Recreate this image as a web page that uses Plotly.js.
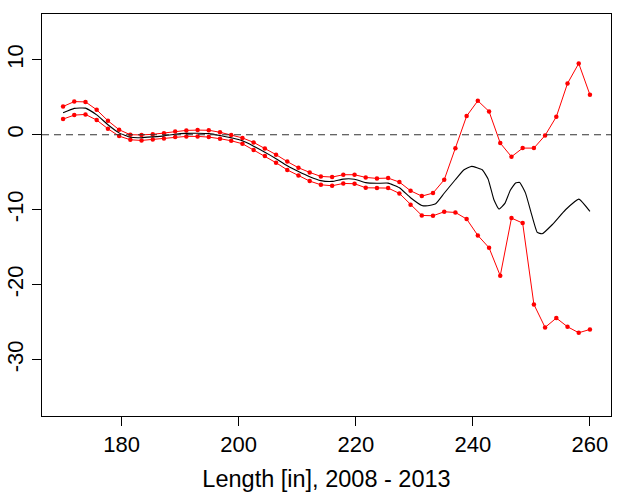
<!DOCTYPE html>
<html>
<head>
<meta charset="utf-8">
<script src="https://cdn.plot.ly/plotly-3.0.1.min.js"></script>
<style>
  html, body { margin: 0; padding: 0; background: #fff; }
  #chart { width: 620px; height: 498px; }
</style>
</head>
<body>
<div id="chart"></div>
<script>
// Length grid for the confidence band points
var lengthX = [170.00,171.91,173.83,175.74,177.66,179.57,181.49,183.40,185.32,187.23,
  189.15,191.06,192.98,194.89,196.81,198.72,200.64,202.55,204.47,206.38,
  208.30,210.21,212.13,214.04,215.96,217.87,219.79,221.70,223.62,225.53,
  227.45,229.36,231.28,233.19,235.11,237.02,238.94,240.85,242.77,244.68,
  246.60,248.51,250.43,252.34,254.26,256.17,258.09,260.00];

// Upper band (red, top)
var upperY = [3.77,4.42,4.38,3.33,1.87,0.67,0.00,-0.02,0.06,0.20,
  0.44,0.58,0.62,0.60,0.33,-0.02,-0.42,-1.02,-1.82,-2.65,
  -3.58,-4.40,-5.02,-5.56,-5.64,-5.33,-5.33,-5.69,-5.82,-5.78,
  -6.31,-7.47,-8.18,-7.78,-6.00,-1.80,2.49,4.53,3.11,-1.11,
  -2.93,-1.78,-1.78,-0.09,2.40,6.84,9.51,5.33];

// Lower band (red, bottom)
var lowerY = [2.09,2.62,2.71,1.96,0.80,-0.18,-0.67,-0.76,-0.62,-0.49,
  -0.31,-0.22,-0.22,-0.31,-0.53,-0.80,-1.20,-2.02,-2.82,-3.73,
  -4.69,-5.42,-6.18,-6.67,-6.80,-6.49,-6.53,-7.07,-7.11,-7.11,
  -7.82,-9.33,-10.76,-10.80,-10.27,-10.36,-11.24,-13.42,-15.07,-18.80,
  -11.11,-11.78,-22.62,-25.69,-24.44,-25.60,-26.40,-25.96];

// Central estimate (black)
var centerX = [170.00,171.91,173.83,175.74,177.66,179.57,181.49,183.40,185.32,187.23,
  189.15,191.06,192.98,194.89,196.81,198.72,200.64,202.55,204.47,206.38,
  208.30,210.21,212.13,214.04,215.96,217.87,219.79,221.70,223.62,225.53,
  227.45,229.36,231.28,232.30,233.65,235.10,237.00,238.50,239.80,241.60,
  242.60,243.60,244.46,245.50,246.40,247.30,248.00,249.00,249.97,251.00,
  251.84,253.55,255.83,258.10,260.00];
var centerY = [2.93,3.52,3.55,2.65,1.34,0.25,-0.34,-0.39,-0.28,-0.15,
  0.07,0.18,0.20,0.15,-0.10,-0.41,-0.81,-1.52,-2.32,-3.19,
  -4.14,-4.91,-5.60,-6.12,-6.22,-5.91,-5.93,-6.38,-6.47,-6.45,
  -7.07,-8.40,-9.42,-9.47,-9.20,-7.80,-6.00,-4.67,-4.22,-4.67,
  -5.90,-8.67,-9.91,-9.11,-7.40,-6.44,-6.36,-7.78,-10.44,-13.02,
  -13.20,-12.00,-10.00,-8.58,-10.22];

var xTicks = [180, 200, 220, 240, 260];
var yTicks = [-30, -20, -10, 0, 10];
var xTitle = 'Length [in], 2008 - 2013';

var FONT = 'Liberation Sans, Arial, Helvetica, sans-serif';

var traces = [
  { x: lengthX, y: upperY, type: 'scatter', mode: 'lines+markers',
    line: { color: '#ff0000', width: 1 }, marker: { color: '#ff0000', size: 4.5 },
    hoverinfo: 'skip', showlegend: false },
  { x: lengthX, y: lowerY, type: 'scatter', mode: 'lines+markers',
    line: { color: '#ff0000', width: 1 }, marker: { color: '#ff0000', size: 4.5 },
    hoverinfo: 'skip', showlegend: false },
  { x: centerX, y: centerY, type: 'scatter', mode: 'lines',
    line: { color: '#000000', width: 1.1, shape: 'spline', smoothing: 0.4 },
    hoverinfo: 'skip', showlegend: false }
];

var layout = {
  width: 620, height: 498,
  margin: { l: 42, r: 9, t: 14, b: 82, pad: 0 },
  paper_bgcolor: '#ffffff', plot_bgcolor: '#ffffff',
  font: { family: FONT, color: '#000000' },
  showlegend: false,
  xaxis: {
    range: [166.4, 263.6], tickmode: 'array', tickvals: xTicks,
    ticktext: xTicks.map(String),
    ticks: 'outside', ticklen: 9, tickwidth: 1, tickcolor: '#000',
    showline: true, mirror: true, linecolor: '#000', linewidth: 1,
    showgrid: false, zeroline: false,
    tickfont: { family: FONT, size: 22, color: '#000' },
    title: { text: xTitle, font: { family: FONT, size: 23.5, color: '#000' }, standoff: 14 }
  },
  yaxis: {
    range: [-37.5, 16.1], tickmode: 'array', tickvals: yTicks,
    ticktext: yTicks.map(String), tickangle: -90,
    ticks: 'outside', ticklen: 9, tickwidth: 1, tickcolor: '#000',
    showline: true, mirror: true, linecolor: '#000', linewidth: 1,
    showgrid: false, zeroline: false,
    tickfont: { family: FONT, size: 22, color: '#000' }
  },
  shapes: [{
    type: 'line', xref: 'paper', x0: 0, x1: 1, yref: 'y', y0: 0, y1: 0,
    line: { color: '#333333', width: 1.1, dash: '7px,5px' }, layer: 'above'
  }]
};

Plotly.newPlot('chart', traces, layout, { displayModeBar: false, staticPlot: true });
</script>
</body>
</html>
